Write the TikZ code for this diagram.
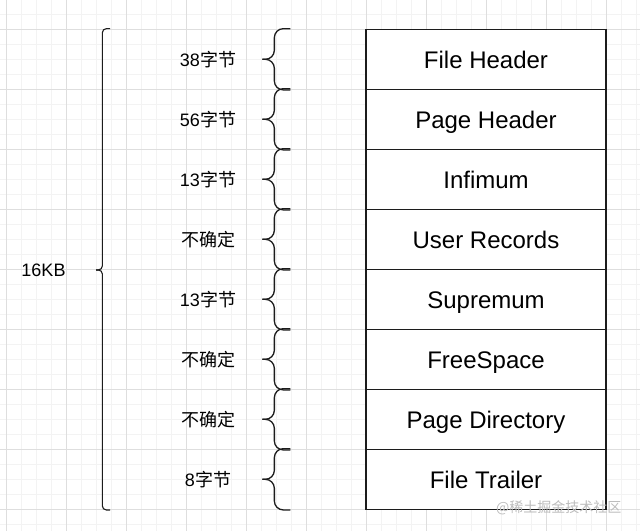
\documentclass[tikz,border=0pt]{standalone}
\usepackage{fontspec}
\setmainfont{Liberation Sans}
\newfontfamily\cjk{Noto Sans CJK SC}
\usetikzlibrary{positioning,calc}
\definecolor{gmin}{HTML}{F3F3F3}
\definecolor{gmaj}{HTML}{DEDEDE}
\definecolor{edge}{HTML}{1C1C1C}
\definecolor{wmk}{HTML}{BDBDBD}
\tikzset{
  fld/.style={draw=edge, fill=white, line width=1.3pt, minimum width=240pt, minimum height=60pt, inner sep=0pt, text height=18pt, text depth=0pt, font=\fontsize{24}{28}\selectfont},
  lbl/.style={inner sep=0pt, text height=13.4pt, text depth=0pt, font=\fontsize{18}{20}\selectfont},
  brc/.style={draw=edge, line width=1.3pt, rounded corners=9pt},
  bigbrc/.style={draw=edge, line width=1.1pt, rounded corners=4pt}}
\begin{document}
\begin{tikzpicture}[x=1pt, y=-1pt]
\useasboundingbox (0,0) rectangle (640,531);
% grid
\foreach \x in {6.7,21.7,...,640} \draw[gmin, line width=0.8pt] (\x,0) -- (\x,531);
\foreach \y in {14.3,29.3,...,531} \draw[gmin, line width=0.8pt] (0,\y) -- (640,\y);
\foreach \x in {6.7,66.7,...,640} \draw[gmaj, line width=0.8pt] (\x,0) -- (\x,531);
\foreach \y in {29.3,89.3,...,531} \draw[gmaj, line width=0.8pt] (0,\y) -- (640,\y);
% page parts
\foreach \t/\s [count=\i from 0] in {
    File Header/{38\cjk 字节},
    Page Header/{56\cjk 字节},
    Infimum/{13\cjk 字节},
    User Records/{\cjk 不确定},
    Supremum/{13\cjk 字节},
    FreeSpace/{\cjk 不确定},
    Page Directory/{\cjk 不确定},
    File Trailer/{8\cjk 字节}} {
  \node[fld] (b\i) at (486,{59.3+60*\i}) {\t};
  \node[lbl] (s\i) at (208,{59.3+60*\i}) {\s};
  \draw[brc] ($(b\i.north west)+(-75,0)$) -| ($(b\i.west)+(-91,0)$) -- ($(b\i.west)+(-103,0)$);
  \draw[brc] ($(b\i.south west)+(-75,0)$) -| ($(b\i.west)+(-91,0)$) -- ($(b\i.west)+(-103,0)$);}
% whole page
\draw[bigbrc] ($(b0.north west)+(-255.3,0)$) -| ($(b3.south west)+(-263,0)$) -- ($(b3.south west)+(-269.3,0)$);
\draw[bigbrc] ($(b7.south west)+(-255.3,0)$) -| ($(b3.south west)+(-263,0)$) -- ($(b3.south west)+(-269.3,0)$);
\node[lbl] (tot) at (43.5,269.3) {16KB};
\node[anchor=east, text=wmk, font=\fontsize{14}{16}\selectfont\cjk] (wm) at (625,508) {@稀土掘金技术社区};
\end{tikzpicture}
\end{document}
